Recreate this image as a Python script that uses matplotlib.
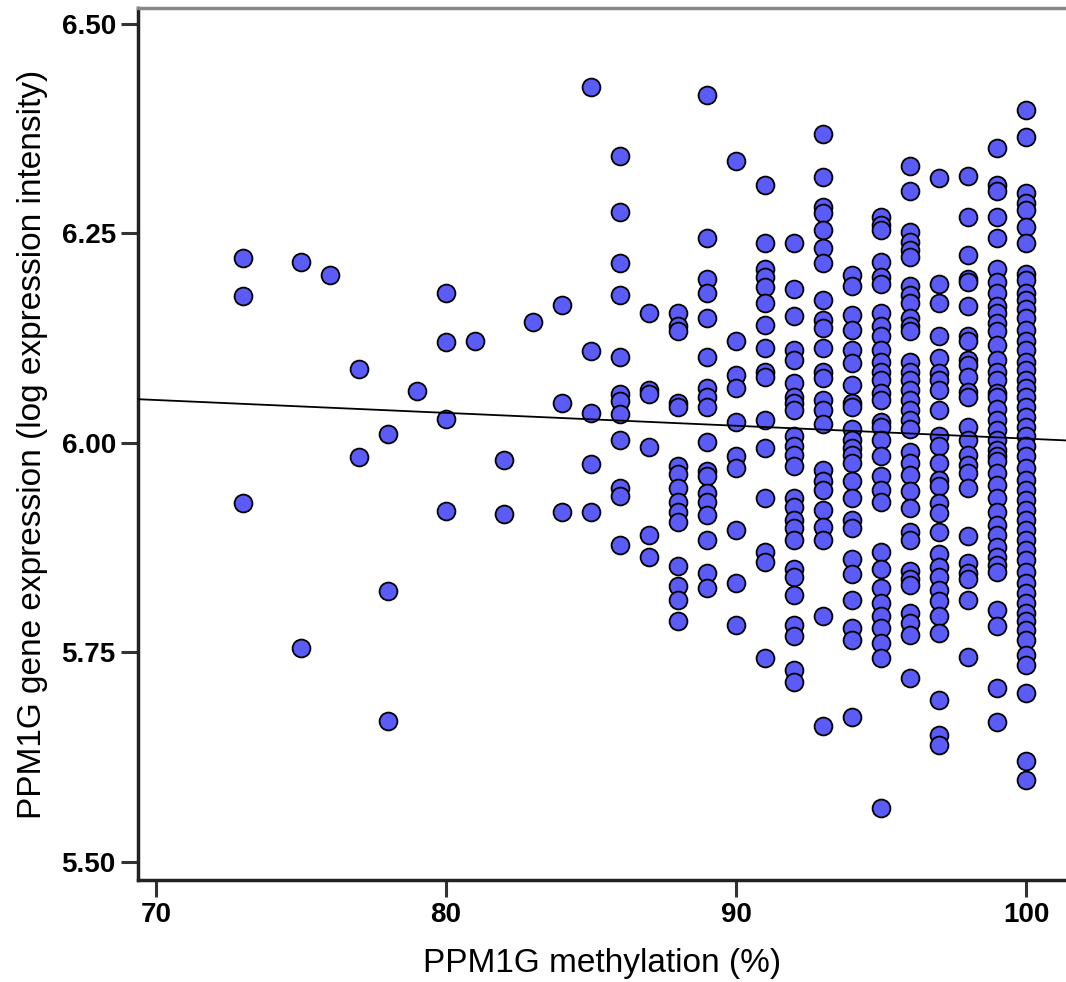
import matplotlib
matplotlib.use("Agg")
import matplotlib.pyplot as plt
import numpy as np

plt.rcParams['font.family'] = ['Liberation Sans', 'DejaVu Sans']

# methylation (%) -> expression values per methylation level
x73 = [6.221, 6.175, 5.928]
x75 = [6.216, 5.755]
x76 = [6.200]
x77 = [6.088, 5.983]
x78 = [6.011, 5.823, 5.668]
x79 = [6.062]
x80 = [6.179, 6.120, 6.029, 5.919]
x81 = [6.122]
x82 = [5.980, 5.915]
x83 = [6.144]
x84 = [6.165, 6.047, 5.917]
x85 = [6.425, 6.110, 6.036, 5.975, 5.917]
x86 = [6.342, 6.276, 6.214, 6.177, 6.103, 6.058, 6.050, 6.035, 6.003, 5.946, 5.937, 5.878]
x87 = [6.155, 6.063, 6.058, 5.995, 5.890, 5.864]
x88 = [6.155, 6.140, 6.133, 6.048, 6.043, 5.972, 5.963, 5.946, 5.930, 5.918, 5.906,
       5.853, 5.829, 5.813, 5.787]
x89 = [6.415, 6.244, 6.196, 6.179, 6.149, 6.103, 6.065, 6.055, 6.043, 6.001, 5.966,
       5.960, 5.940, 5.930, 5.914, 5.884, 5.845, 5.827]
x90 = [6.336, 6.121, 6.081, 6.065, 6.025, 5.984, 5.970, 5.896, 5.833, 5.783]
x91 = [6.308, 6.239, 6.208, 6.198, 6.186, 6.167, 6.141, 6.113, 6.085, 6.079, 6.027,
       5.994, 5.934, 5.870, 5.858, 5.743]
x92 = [6.239, 6.183, 6.151, 6.111, 6.099, 6.071, 6.055, 6.047, 6.039, 6.008, 5.996,
       5.986, 5.972, 5.934, 5.924, 5.908, 5.898, 5.884, 5.849, 5.840, 5.819, 5.783,
       5.769, 5.729, 5.715]
x93 = [6.369, 6.317, 6.282, 6.274, 6.254, 6.232, 6.214, 6.171, 6.147, 6.137, 6.113,
       6.085, 6.077, 6.051, 6.039, 6.023, 5.968, 5.954, 5.944, 5.920, 5.900, 5.884,
       5.793, 5.662]
x94 = [6.200, 6.187, 6.153, 6.135, 6.111, 6.095, 6.069, 6.047, 6.043, 6.016, 6.004,
       5.994, 5.985, 5.976, 5.954, 5.934, 5.908, 5.898, 5.862, 5.843, 5.813, 5.779,
       5.765, 5.673]
x95 = [6.270, 6.260, 6.254, 6.216, 6.198, 6.190, 6.155, 6.139, 6.127, 6.111, 6.097,
       6.085, 6.075, 6.059, 6.051, 6.025, 6.019, 6.003, 5.984, 5.960, 5.944, 5.930,
       5.870, 5.849, 5.827, 5.809, 5.793, 5.779, 5.761, 5.743, 5.564]
x96 = [6.330, 6.301, 6.252, 6.240, 6.230, 6.222, 6.187, 6.177, 6.167, 6.149, 6.139,
       6.133, 6.097, 6.085, 6.075, 6.063, 6.051, 6.039, 6.027, 6.016, 5.989, 5.976,
       5.962, 5.942, 5.922, 5.894, 5.884, 5.847, 5.837, 5.831, 5.797, 5.785, 5.771,
       5.719]
x97 = [6.316, 6.190, 6.167, 6.127, 6.101, 6.083, 6.075, 6.063, 6.039, 6.008, 5.996,
       5.976, 5.956, 5.948, 5.928, 5.916, 5.894, 5.868, 5.852, 5.840, 5.825, 5.811,
       5.793, 5.773, 5.693, 5.652, 5.640]
x98 = [6.318, 6.270, 6.224, 6.196, 6.192, 6.163, 6.127, 6.121, 6.099, 6.093, 6.079,
       6.061, 6.055, 6.019, 6.004, 5.986, 5.974, 5.964, 5.946, 5.889, 5.857, 5.845,
       5.837, 5.813, 5.745]
x99 = [6.352, 6.308, 6.300, 6.270, 6.244, 6.208, 6.192, 6.179, 6.163, 6.155, 6.143,
       6.133, 6.117, 6.099, 6.085, 6.075, 6.059, 6.055, 6.040, 6.027, 6.015, 6.004,
       5.992, 5.984, 5.978, 5.964, 5.950, 5.934, 5.918, 5.902, 5.890, 5.876, 5.864,
       5.854, 5.846, 5.801, 5.781, 5.707, 5.667]
x100 = [6.397, 6.365, 6.298, 6.286, 6.278, 6.258, 6.238, 6.202, 6.194, 6.179, 6.171,
        6.160, 6.149, 6.135, 6.121, 6.111, 6.097, 6.087, 6.075, 6.065, 6.055, 6.043,
        6.031, 6.019, 6.008, 5.996, 5.984, 5.970, 5.956, 5.944, 5.932, 5.920, 5.908,
        5.896, 5.884, 5.872, 5.860, 5.846, 5.833, 5.821, 5.809, 5.797, 5.787, 5.777,
        5.765, 5.747, 5.735, 5.701, 5.620, 5.598]

columns = {73: x73, 75: x75, 76: x76, 77: x77, 78: x78, 79: x79, 80: x80, 81: x81,
           82: x82, 83: x83, 84: x84, 85: x85, 86: x86, 87: x87, 88: x88, 89: x89,
           90: x90, 91: x91, 92: x92, 93: x93, 94: x94, 95: x95, 96: x96, 97: x97,
           98: x98, 99: x99, 100: x100}

xticks = [70, 80, 90, 100]
yticks = [5.50, 5.75, 6.00, 6.25, 6.50]

xs = np.concatenate([[k] * len(v) for k, v in columns.items()]).astype(float)
ys = np.concatenate([v for v in columns.values()])

fig = plt.figure(figsize=(10.66, 9.82), dpi=100)
ax = fig.add_axes([0.1295, 0.1039, 0.8705, 0.8881])

ax.scatter(xs, ys, s=165, facecolor='#5b5bf7', edgecolor='black', linewidth=1.3, zorder=3)

# linear fit line
slope, intercept = np.polyfit(xs, ys, 1)
xl = np.array([69.38, 101.38])
ax.plot(xl, intercept + slope * xl, color='black', linewidth=1.3, zorder=4)

ax.set_xlim(69.38, 101.38)
ax.set_ylim(5.4785, 6.519)
ax.set_xticks(xticks)
ax.set_yticks(yticks)
ax.set_xticklabels([str(t) for t in xticks])
ax.set_yticklabels([f"{t:.2f}" for t in yticks])

for lab in ax.get_xticklabels() + ax.get_yticklabels():
    lab.set_fontsize(20)
    lab.set_fontweight('bold')

ax.tick_params(axis='both', direction='out', length=12, width=2.2, color='#333333', pad=4)

ax.spines['left'].set_linewidth(2.5)
ax.spines['left'].set_color('#222222')
ax.spines['bottom'].set_linewidth(2.5)
ax.spines['bottom'].set_color('#222222')
ax.spines['top'].set_linewidth(2.5)
ax.spines['top'].set_color('#888888')
ax.spines['right'].set_visible(False)

ax.set_xlabel("PPM1G methylation (%)", fontsize=24, labelpad=14)
ax.set_ylabel("PPM1G gene expression (log expression intensity)", fontsize=24, labelpad=10)

fig.savefig("out.png", dpi=100)
